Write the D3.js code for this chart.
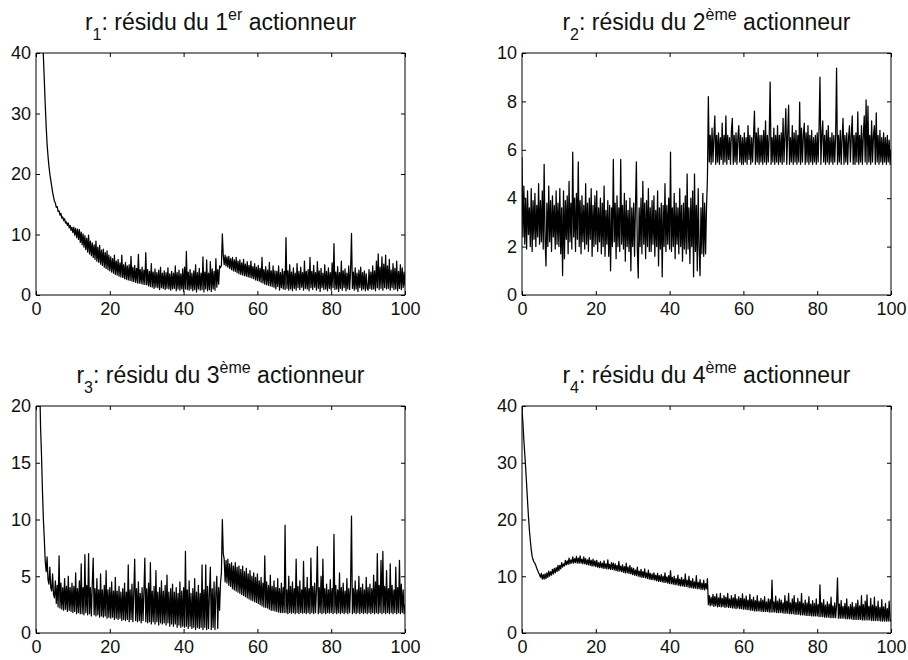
<!DOCTYPE html>
<html>
<head>
<meta charset="utf-8">
<script src="https://cdn.jsdelivr.net/npm/d3@7"></script>
<style>
  html, body { margin: 0; padding: 0; background: #fff; }
  svg { display: block; }
  text { font-family: "Liberation Sans", Arial, sans-serif; fill: #111; }
</style>
</head>
<body>
<svg id="chart" width="908" height="660"></svg>
<script>
// ---------------- data ----------------
const xDomain = [0, 100];
const xTicks = [0, 20, 40, 60, 80, 100];
const yDomains = [[0, 40], [0, 10], [0, 20], [0, 40]];
const yTicks1 = [0, 10, 20, 30, 40];
const yTicks2 = [0, 2, 4, 6, 8, 10];
const yTicks3 = [0, 5, 10, 15, 20];
const yTicks4 = [0, 10, 20, 30, 40];
const titleIndex = ["1", "2", "3", "4"];
const titleSup = ["er", "ème", "ème", "ème"];

// residual r1 (samples evenly spaced over 0..100)
const r1 = [
95,85,76,68,61,55,49,44,39.5,35.5,31.5,28,25,23,21.3,20,19,18,17,16.2,
15.5,15.2,14.5,14.6,13.8,13.9,13.2,13.5,12.7,12.9,12.3,12.6,11.9,12.1,11.5,11.9,11.1,11.5,10.7,11.2,
10.3,11.2,9.9,11.0,9.5,10.9,9.2,10.8,8.7,10.4,8.3,10.1,7.9,9.8,7.5,9.4,7.1,9.9,6.8,8.9,
6.5,8.6,6.2,8.3,5.9,8.9,5.6,7.9,5.4,8.2,5.1,7.4,4.9,7.6,4.6,7.0,4.4,7.3,4.2,6.6,
4.0,6.3,3.8,6.0,3.6,6.6,3.4,5.6,3.3,5.9,3.1,5.3,3.0,6.6,2.9,5.0,2.7,5.4,2.6,4.8,
2.5,5.0,2.4,6.4,2.3,4.6,2.2,4.9,2.1,4.4,2.0,6.7,1.95,4.2,1.9,4.6,1.8,4.1,1.75,7.0,
1.7,4.2,1.5,3.9,1.4,5.2,1.3,3.8,1.1,4.3,1.3,3.7,1.2,4.1,0.9,4.6,1.2,3.6,1.1,4.0,
0.9,3.7,1.1,4.5,1.0,3.5,0.8,3.9,1.0,3.6,1.1,4.8,0.7,3.7,1.0,4.1,0.8,3.5,1.0,4.3,
0.6,4.6,1.0,7.2,0.9,3.8,0.8,4.2,1.0,3.6,0.7,4.0,0.9,5.0,0.5,3.7,1.0,4.4,0.8,3.6,
0.9,6.3,0.5,3.8,1.0,5.8,0.7,3.6,0.9,5.5,0.6,4.3,1.0,3.9,0.8,6.0,1.3,4.2,1.8,4.8,
4.5,4.9,10.1,6.5,5.0,6.6,4.8,6.3,4.6,6.4,4.4,6.0,4.2,6.2,4.0,5.8,3.9,6.2,3.7,5.6,
3.5,5.8,3.4,5.3,3.3,5.9,3.2,5.1,3.1,5.5,3.0,4.9,2.9,5.6,2.8,4.7,2.7,5.2,2.5,4.6,
2.4,4.9,2.3,4.4,2.1,6.2,2.0,4.2,1.8,4.7,1.7,4.1,1.6,5.4,1.5,4.0,1.4,4.8,1.3,4.0,
1.0,3.9,1.4,4.8,0.8,3.7,1.2,4.3,1.0,3.9,0.9,9.5,1.1,4.0,0.8,5.0,1.0,3.8,0.7,4.5,
1.1,3.6,0.8,5.2,1.2,3.9,0.9,4.6,1.3,3.7,0.8,5.6,1.1,3.9,1.0,4.2,0.7,6.2,1.2,3.9,
0.9,4.9,1.3,3.7,0.8,5.5,1.1,4.0,0.6,4.4,1.2,3.6,0.9,5.0,1.0,3.9,0.7,4.5,1.1,3.7,
0.8,5.3,1.2,8.5,0.9,3.8,1.0,4.7,0.6,3.7,1.1,5.6,0.8,4.0,1.2,4.3,0.7,3.6,1.0,4.8,
0.9,4.0,10.2,1.1,3.8,0.8,4.5,1.0,3.6,0.6,4.1,1.2,4.6,0.8,3.7,1.0,4.0,0.7,3.5,1.1,
0.8,4.2,1.1,3.8,0.9,4.8,1.0,4.0,0.7,5.6,1.2,6.8,0.9,4.6,1.1,6.3,0.8,5.1,1.2,6.6,
1.0,4.8,1.1,5.9,0.8,4.1,1.2,5.2,0.9,4.4,1.0,5.6,0.7,3.9,1.1,5.0,0.9,4.5,1.2,3.8,
1.5
];

// residual r2
const r2 = [
5.7,2.4,4.5,2.1,4.0,1.9,4.3,2.5,3.6,2.0,4.4,1.8,3.9,2.3,4.2,2.0,3.7,2.4,4.6,2.1,
3.9,2.2,4.3,1.9,5.4,2.3,1.2,3.8,2.0,4.5,2.2,3.9,1.8,4.1,2.4,3.7,1.9,4.3,2.1,3.8,
2.0,4.4,1.7,3.6,0.8,4.3,1.5,3.9,2.3,4.1,1.7,4.7,2.2,3.8,1.9,5.9,2.4,4.0,1.8,4.2,
2.3,5.5,2.0,3.9,1.7,4.1,2.2,3.7,1.9,4.6,2.1,3.8,1.8,4.0,2.3,4.4,1.6,3.7,2.0,4.1,
2.1,4.3,1.8,3.6,2.2,4.0,1.7,3.8,2.0,4.5,1.6,3.5,2.1,3.9,1.6,3.7,1.0,3.6,2.0,5.6,
2.2,3.8,1.5,4.1,2.0,3.6,1.8,5.6,2.1,3.7,1.9,4.2,1.4,3.9,2.0,3.5,1.8,4.0,1.0,3.6,
2.0,3.8,1.6,3.7,5.5,1.9,0.7,3.6,2.0,4.0,1.7,4.7,2.1,3.8,1.5,3.9,2.0,4.4,1.8,3.6,
1.8,3.9,2.1,4.1,1.6,3.5,2.0,4.3,1.2,3.6,1.9,3.8,0.75,3.7,2.0,4.6,1.8,3.7,2.1,4.0,
1.9,5.9,1.8,3.6,2.0,4.2,1.5,3.8,2.1,3.6,1.7,4.4,2.0,3.7,1.4,3.8,1.9,4.1,1.7,5.0,
1.9,3.6,1.3,4.0,2.0,4.3,0.75,5.0,1.8,3.7,1.0,4.4,1.9,0.8,3.6,1.7,4.2,1.6,3.8,1.7,
3.6,4.8,8.2,5.5,6.6,5.4,6.9,5.5,6.5,7.4,5.4,6.6,5.5,6.7,5.4,6.5,5.6,7.1,5.4,6.6,
5.5,7.4,5.4,6.6,5.6,6.5,5.4,6.8,7.3,5.4,6.6,5.5,6.7,5.4,6.5,7.0,5.5,6.6,5.4,6.5,
5.4,6.7,5.5,6.5,5.4,7.0,5.6,6.6,5.4,6.5,5.5,6.6,7.6,5.4,6.7,5.5,6.9,5.4,6.6,5.5,
6.6,5.4,6.8,5.5,7.2,5.4,6.6,5.5,6.6,8.8,5.4,6.5,5.5,6.9,5.4,6.6,5.5,7.0,5.4,6.6,
5.5,6.7,5.4,7.3,5.5,6.6,7.7,5.4,6.6,7.85,5.4,6.5,5.5,7.0,5.4,6.7,5.5,6.8,5.4,6.6,
5.5,7.97,5.4,6.9,5.5,6.6,7.1,5.4,6.7,5.5,7.0,5.4,6.6,5.5,6.8,5.4,6.5,5.5,6.6,5.4,
6.7,5.5,6.9,9.0,5.4,6.6,7.2,5.5,6.6,5.4,6.8,5.5,7.0,5.4,6.5,5.5,6.7,5.4,6.6,5.5,
6.6,9.37,5.4,6.6,5.5,6.8,5.4,6.5,7.3,5.4,6.6,5.5,6.7,5.4,6.5,7.0,5.5,6.6,7.4,5.4,
6.6,5.4,6.7,5.5,7.57,5.4,6.6,5.5,7.0,5.4,6.6,7.4,5.5,8.06,5.4,7.8,5.5,6.6,5.4,7.2,
5.5,6.6,7.0,5.4,7.53,5.5,6.6,5.4,6.8,5.5,6.5,5.4,6.7,5.5,6.5,5.4,6.6,5.5,6.4,5.4,
6.0
];

// residual r3
const r3 = [
60,46,36,28,22,18,15.6,12.5,10,8.3,6.3,5.4,6.7,4.7,4.3,5.8,4.0,3.7,5.2,3.4,
3.1,4.6,2.6,4.2,2.3,6.8,2.2,4.4,2.1,4.0,2.0,4.8,2.1,4.1,1.9,5.0,2.0,4.0,1.9,4.4,
1.8,4.1,1.9,5.3,1.7,3.9,1.8,4.6,1.7,6.1,1.7,4.0,1.6,6.9,1.8,4.2,1.6,7.0,1.7,4.0,
1.5,4.3,6.6,1.6,3.9,1.5,4.8,1.6,3.8,1.4,5.2,1.5,3.8,1.4,4.2,1.5,5.5,1.3,3.8,1.4,
4.0,1.3,4.5,1.4,3.7,1.2,4.9,1.3,3.7,1.2,4.1,1.3,3.6,1.1,3.9,1.2,4.4,1.1,3.6,1.2,
6.0,1.0,3.8,1.2,4.3,1.0,3.6,6.5,1.1,3.9,1.0,4.5,1.1,3.5,0.9,4.0,1.1,3.7,6.6,1.0,
3.9,0.9,4.4,1.0,6.2,0.8,3.7,1.0,4.1,0.8,5.5,1.0,3.6,0.7,4.0,0.9,4.6,0.8,3.7,0.9,
4.2,0.7,5.1,0.9,3.6,0.6,3.9,0.8,4.3,0.6,3.6,0.8,4.0,0.5,3.5,0.7,4.5,0.5,3.7,0.6,
4.0,0.5,7.2,0.6,3.8,0.4,4.6,0.6,3.5,0.4,3.9,0.5,4.8,0.3,3.6,0.5,4.2,0.4,3.5,0.5,
6.0,0.3,3.8,0.5,6.0,0.3,4.1,0.4,3.6,5.8,0.3,3.9,0.5,4.5,0.3,3.6,5.0,0.4,4.0,2.0,
4.4,5.3,10.0,7.0,6.5,4.5,6.4,4.4,6.5,4.2,6.1,4.1,6.2,3.9,5.9,3.8,6.2,3.7,5.8,3.6,
5.9,3.5,5.6,3.4,5.9,3.3,5.4,3.2,5.7,3.1,5.2,3.0,5.5,2.9,5.0,2.85,5.3,2.75,4.9,2.7,
5.2,2.6,4.6,2.5,4.9,2.4,4.4,2.3,6.8,2.25,4.5,2.2,4.2,2.1,5.1,2.0,4.1,2.0,4.6,1.95,
4.0,1.9,4.8,1.85,3.9,1.8,4.4,1.8,4.0,1.8,9.5,1.8,3.8,1.7,5.0,1.8,4.1,1.75,4.5,1.8,
3.9,1.7,6.5,1.8,4.1,1.7,4.6,1.8,3.8,1.75,6.3,1.8,4.0,1.7,4.9,1.8,3.9,1.7,6.6,1.8,
4.1,1.7,4.4,1.8,3.8,7.6,1.7,4.0,1.8,5.0,1.7,6.5,1.8,3.9,1.7,4.3,1.8,3.8,1.75,4.7,
1.8,3.9,1.7,8.7,1.8,4.2,1.7,3.8,1.8,5.3,1.7,4.0,1.8,4.4,1.7,3.7,1.8,4.8,1.7,3.9,
1.8,4.2,10.3,1.7,3.9,1.8,4.6,1.7,3.8,1.8,5.0,1.7,4.0,1.8,4.3,1.7,3.8,1.8,4.9,1.7,
4.0,1.8,4.3,1.7,3.9,1.8,5.1,1.7,4.5,1.8,7.0,1.7,4.2,1.8,6.4,1.7,7.2,1.8,4.1,1.7,
5.5,1.8,3.9,1.7,6.1,1.8,4.2,1.7,3.8,1.8,5.8,1.7,4.0,1.8,6.4,1.7,4.3,1.8,3.8,1.7,
2.5
];

// residual r4
const r4 = [
39.5,37,34,31.5,29,26.2,23.3,20.5,18.2,16.3,14.7,13.5,12.9,12.5,12.3,11.9,11.4,11.0,10.6,10.3,
9.8,10.5,9.5,10.3,9.5,10.4,9.6,10.6,9.8,10.9,10.0,10.8,10.2,11.2,10.4,11.4,10.6,11.5,10.8,11.9,
11.0,11.9,11.3,12.4,11.6,12.2,11.8,12.8,12.0,12.7,12.1,13.2,12.2,12.9,12.3,13.4,12.3,13.1,12.4,13.5,
12.3,13.2,12.3,13.6,12.3,13.0,12.2,13.4,12.2,13.1,12.1,12.9,12.0,13.3,11.9,12.8,11.8,13.0,11.8,12.7,
11.7,12.8,11.6,12.4,11.5,12.6,11.5,12.3,11.4,12.7,11.4,12.2,11.3,12.9,11.3,12.1,11.2,12.4,11.2,12.3,
11.1,12.2,11.0,11.9,10.9,12.6,10.9,11.8,10.8,12.0,10.7,11.7,10.6,12.3,10.6,11.6,10.5,11.9,10.4,11.5,
10.3,11.4,10.2,11.1,10.1,11.6,10.0,10.9,9.9,11.2,9.8,10.8,9.8,11.3,9.7,10.6,9.6,11.1,9.5,10.5,
9.4,10.4,9.4,10.6,9.3,10.2,9.2,10.5,9.1,10.1,9.1,10.3,9.0,10.0,8.9,10.6,8.9,9.9,8.8,10.1,
8.7,11.0,8.7,9.8,8.6,10.0,8.5,9.6,8.5,10.2,8.4,9.5,8.3,9.8,8.3,9.4,8.2,10.4,8.2,9.3,
8.1,10.0,8.0,9.2,8.0,9.6,7.9,9.0,7.9,10.1,7.8,8.9,7.8,9.4,7.7,8.8,7.7,9.3,7.6,8.7,
7.8,9.6,5.0,6.6,4.8,6.3,4.9,6.8,4.7,6.4,4.8,6.9,4.6,6.2,4.7,7.0,4.6,6.1,4.7,6.6,
4.5,6.3,4.6,7.0,4.5,6.0,4.5,6.6,4.4,6.2,4.4,6.8,4.3,6.0,4.4,6.4,4.3,6.1,4.3,6.9,
4.2,6.0,4.2,6.5,4.1,5.8,4.1,6.8,4.0,5.9,4.0,6.3,3.9,5.7,3.9,6.6,3.9,5.6,3.9,6.1,
3.8,5.8,3.8,6.4,3.8,5.5,3.8,6.0,3.7,5.9,3.7,9.3,3.7,5.5,3.7,6.5,3.6,5.6,3.6,6.0,
3.6,5.8,3.6,5.3,3.5,6.6,3.5,5.6,3.5,7.0,3.4,5.3,3.4,6.0,3.4,6.6,3.3,5.4,3.3,6.1,
3.3,5.5,3.2,7.0,3.2,5.2,3.2,5.8,3.1,5.3,3.1,6.4,3.1,5.1,3.0,5.7,3.0,5.2,3.0,6.0,
3.0,5.0,2.9,8.5,2.9,5.3,2.9,5.9,2.8,4.9,2.8,5.5,2.8,5.1,2.7,6.3,2.7,4.8,2.7,5.3,
2.7,5.0,9.7,2.6,5.1,2.6,5.7,2.6,4.7,2.6,5.2,2.5,6.0,2.5,4.6,2.5,5.0,2.5,5.4,2.4,
4.6,2.4,5.2,2.4,5.8,2.4,4.8,2.4,6.6,2.3,5.0,2.3,5.6,2.3,6.7,2.3,4.7,2.3,6.1,2.2,
4.9,2.2,6.3,2.2,4.7,2.2,5.6,2.2,4.5,2.1,5.9,2.1,4.6,2.1,5.2,2.1,4.3,2.1,5.6,2.1,
2.4
];

const seriesList = [r1, r2, r3, r4];
const yTicksList = [yTicks1, yTicks2, yTicks3, yTicks4];

// ---------------- layout ----------------
const panels = [
  { left: 36,  right: 405, top: 53,  bottom: 295, titleY: 30 },
  { left: 522, right: 891, top: 53,  bottom: 295, titleY: 30 },
  { left: 36,  right: 405, top: 406, bottom: 633, titleY: 383 },
  { left: 522, right: 891, top: 406, bottom: 633, titleY: 383 }
];
const tickLen = 4;

const svg = d3.select("#chart");
svg.append("rect").attr("width", 908).attr("height", 660).attr("fill", "#fff");

panels.forEach((p, k) => {
  const data = seriesList[k];
  const x = d3.scaleLinear().domain(xDomain).range([p.left, p.right]);
  const y = d3.scaleLinear().domain(yDomains[k]).range([p.bottom, p.top]);
  const g = svg.append("g");

  const clipId = "clip" + k;
  svg.append("clipPath").attr("id", clipId)
    .append("rect")
    .attr("x", p.left).attr("y", p.top)
    .attr("width", p.right - p.left).attr("height", p.bottom - p.top);

  const n = data.length;
  const line = d3.line()
    .x((d, i) => x(xDomain[0] + i * (xDomain[1] - xDomain[0]) / (n - 1)))
    .y(d => y(d));
  g.append("path")
    .datum(data)
    .attr("clip-path", "url(#" + clipId + ")")
    .attr("fill", "none")
    .attr("stroke", "#000")
    .attr("stroke-width", 1.25)
    .attr("stroke-linejoin", "round")
    .attr("d", line);

  const axB = d3.axisBottom(x).tickValues(xTicks).tickSize(-tickLen).tickPadding(7).tickFormat(d3.format("d"));
  const axT = d3.axisTop(x).tickValues(xTicks).tickSize(-tickLen).tickFormat("");
  const axL = d3.axisLeft(y).tickValues(yTicksList[k]).tickSize(-tickLen).tickPadding(5).tickFormat(d3.format("d"));
  const axR = d3.axisRight(y).tickValues(yTicksList[k]).tickSize(-tickLen).tickFormat("");

  const gb = g.append("g").attr("transform", `translate(0,${p.bottom})`).call(axB);
  const gt = g.append("g").attr("transform", `translate(0,${p.top})`).call(axT);
  const gl = g.append("g").attr("transform", `translate(${p.left},0)`).call(axL);
  const gr = g.append("g").attr("transform", `translate(${p.right},0)`).call(axR);

  [gb, gt, gl, gr].forEach(a => {
    a.selectAll(".domain").attr("stroke", "#000").attr("stroke-width", 1);
    a.selectAll(".tick line").attr("stroke", "#000");
    a.selectAll("text").attr("font-size", 18).attr("font-family", "'Liberation Sans', Arial, sans-serif").attr("fill", "#111");
  });
  gb.selectAll(".domain").attr("d", `M${p.left},0H${p.right}`);
  gt.selectAll(".domain").attr("d", `M${p.left},0H${p.right}`);
  gl.selectAll(".domain").attr("d", `M0,${p.top}V${p.bottom}`);
  gr.selectAll(".domain").attr("d", `M0,${p.top}V${p.bottom}`);

  const cx = (p.left + p.right) / 2;
  const t = g.append("text")
    .attr("x", cx).attr("y", p.titleY)
    .attr("text-anchor", "middle")
    .attr("font-size", 23)
    .attr("fill", "#111");
  t.append("tspan").text("r");
  t.append("tspan").attr("font-size", 16).attr("dy", 10).text(titleIndex[k]);
  t.append("tspan").attr("dy", -10).text(": résidu du " + titleIndex[k]);
  t.append("tspan").attr("font-size", 16).attr("dy", -10).text(titleSup[k]);
  t.append("tspan").attr("dy", 10).text(" actionneur");
});
</script>
</body>
</html>
